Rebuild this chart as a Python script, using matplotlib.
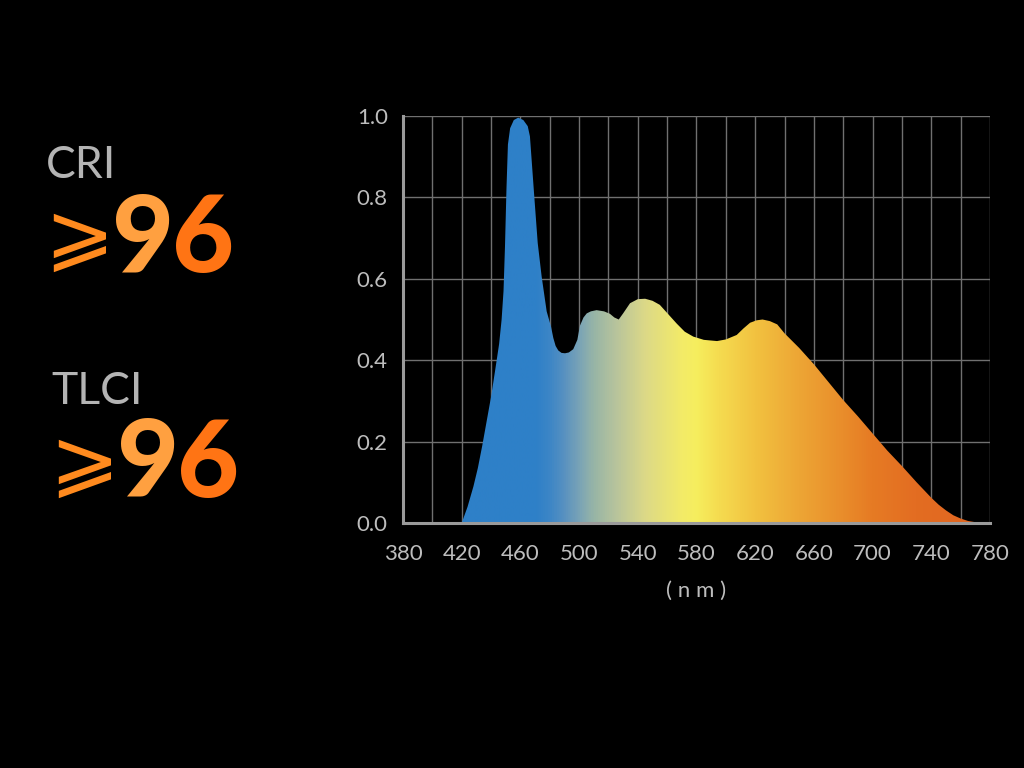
import matplotlib
matplotlib.use('Agg')
import matplotlib.pyplot as plt
import numpy as np
from matplotlib.colors import LinearSegmentedColormap
from matplotlib.patches import Polygon

# ---- data ----
wavelength = [420, 424, 428, 431, 434, 437, 440, 443, 445.5, 447.2, 448.5, 449.5, 450.5,
              451.5, 453, 455.5, 458.5, 462, 465, 466.5, 467.7, 469.3, 471.8, 474.5, 477.9,
              480.9, 482.4, 484, 485.8, 488, 490.4, 493, 496, 498.8, 500.6, 503, 505.2, 508,
              511.9, 517, 521, 524, 527, 530, 534.7, 540, 545, 550, 555, 560, 566.5, 572,
              577.8, 585, 594, 600, 607.4, 612, 616.5, 621, 625, 630, 635, 640, 650, 660,
              670, 680, 690, 700, 710, 720, 730, 740, 745, 750, 755, 760, 765, 770, 775, 780]
intensity = [0.0, 0.04, 0.09, 0.135, 0.19, 0.25, 0.31, 0.38, 0.44, 0.50, 0.57, 0.68, 0.82,
             0.93, 0.97, 0.99, 0.996, 0.99, 0.975, 0.95, 0.89, 0.81, 0.688, 0.605, 0.52,
             0.482, 0.455, 0.435, 0.424, 0.418, 0.417, 0.419, 0.427, 0.45, 0.485, 0.505,
             0.515, 0.520, 0.523, 0.52, 0.514, 0.505, 0.50, 0.515, 0.54, 0.55, 0.551, 0.546,
             0.536, 0.516, 0.49, 0.47, 0.458, 0.45, 0.447, 0.451, 0.462, 0.478, 0.492,
             0.498, 0.50, 0.496, 0.488, 0.466, 0.43, 0.39, 0.346, 0.302, 0.262, 0.22, 0.178,
             0.14, 0.10, 0.062, 0.045, 0.031, 0.019, 0.011, 0.005, 0.002, 0.0005, 0.0]

x_ticks = [380, 420, 460, 500, 540, 580, 620, 660, 700, 740, 780]
x_minor = [400, 440, 480, 520, 560, 600, 640, 680, 720, 760]
y_ticks = [0.0, 0.2, 0.4, 0.6, 0.8, 1.0]
y_tick_labels = ['0.0', '0.2', '0.4', '0.6', '0.8', '1.0']
x_label = '( n m )'

color_stops_nm = [380, 470, 480, 490, 500, 510, 525, 545, 570, 580, 595, 620, 650, 680, 700, 730, 780]
color_stops = ['#2e80c8', '#2e80c8', '#3d86c6', '#5a92c0', '#7aa4b6', '#98b5a6', '#b8c49c',
               '#dcd987', '#f3eb68', '#f6ee5e', '#f5dc50', '#f2c240', '#eda635', '#e98d2b',
               '#e67b24', '#e36d22', '#e06420']

labels_left = ['CRI', 'TLCI']
values_left = ['96', '96']

# ---- figure ----
fig = plt.figure(figsize=(10.24, 7.68), dpi=100, facecolor='black')
ax = fig.add_axes([403 / 1024, 1 - 523 / 768, 587 / 1024, 407 / 768])
ax.set_facecolor('black')

lo, hi = color_stops_nm[0], color_stops_nm[-1]
cmap = LinearSegmentedColormap.from_list(
    'spec', [((n - lo) / (hi - lo), c) for n, c in zip(color_stops_nm, color_stops)])
grad = np.linspace(lo, hi, 800)[None, :]
im = ax.imshow(grad, extent=[380, 780, 0, 1], aspect='auto', cmap=cmap,
               vmin=lo, vmax=hi, origin='lower', zorder=2, interpolation='bilinear')
patch = Polygon(np.column_stack([wavelength, intensity]), closed=True,
                facecolor='none', edgecolor='none', transform=ax.transData)
ax.add_patch(patch)
im.set_clip_path(patch)

ax.set_xlim(380, 780)
ax.set_ylim(0, 1)
ax.set_xticks(x_ticks)
ax.set_xticks(x_minor, minor=True)
ax.set_yticks(y_ticks)
ax.set_yticklabels(y_tick_labels)
ax.set_axisbelow(True)
ax.grid(True, which='both', color='#707070', linewidth=1.0)
ax.tick_params(which='both', length=0)
ax.tick_params(axis='y', pad=11)
ax.tick_params(axis='x', pad=15)
for lab in ax.get_xticklabels() + ax.get_yticklabels():
    lab.set_fontfamily('Lato')
    lab.set_fontweight('normal')
    lab.set_fontsize(16)
    lab.set_color('#bdbdbd')
ax.set_xlabel(x_label, fontfamily='Lato', fontweight='normal', fontsize=16,
              color='#bdbdbd', labelpad=12)
for side in ['top', 'right']:
    ax.spines[side].set_visible(False)
for side in ['left', 'bottom']:
    ax.spines[side].set_color('#9a9a9a')
    ax.spines[side].set_linewidth(2.2)
    ax.spines[side].set_zorder(3)

# ---- left text block ----
label_pos = [(46, 178), (51, 404)]
sym_pos = [(44, 262), (49, 488)]
num_pos = [(112, 272), (117, 497)]
sym_families = ['DejaVu Sans', 'DejaVu Serif', 'DejaVu Sans Mono', 'Noto Sans CJK SC', 'Noto Sans']
for lab, val, lp, sp, npos in zip(labels_left, values_left, label_pos, sym_pos, num_pos):
    fig.text(lp[0] / 1024, 1 - lp[1] / 768, lab, fontfamily='Lato', fontsize=32,
             color='#b4b4b4', ha='left', va='baseline')
    fig.text(sp[0] / 1024, 1 - sp[1] / 768, '\u2a7e', family=sym_families,
             fontweight='normal', fontsize=60, color='#ff8a1e', ha='left', va='baseline')
    fig.text(npos[0] / 1024, 1 - npos[1] / 768, val[0], fontfamily='Lato',
             fontweight='black', fontstyle='normal', fontsize=77, color='#ffa040',
             ha='left', va='baseline')
    fig.text((npos[0] + 60) / 1024, 1 - npos[1] / 768, val[1], fontfamily='Lato',
             fontweight='black', fontstyle='normal', fontsize=77, color='#ff7414',
             ha='left', va='baseline')

fig.savefig('out.png', dpi=100, facecolor='black')
